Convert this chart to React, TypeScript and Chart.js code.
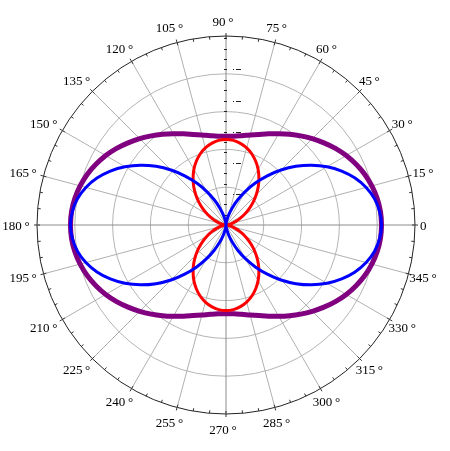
import { useEffect, useRef } from 'react';
import { Chart, registerables } from 'chart.js';

Chart.register(...registerables);

// Polar angles (degrees) of the sampled points, counter-clockwise from the right
const anglesDeg = [
  0, 5, 10, 15, 20, 25, 30, 35, 40, 45, 50, 55, 60, 65, 70, 75, 80, 85,
  90, 95, 100, 105, 110, 115, 120, 125, 130, 135, 140, 145, 150, 155, 160, 165, 170, 175,
  180, 185, 190, 195, 200, 205, 210, 215, 220, 225, 230, 235, 240, 245, 250, 255, 260, 265,
  270, 275, 280, 285, 290, 295, 300, 305, 310, 315, 320, 325, 330, 335, 340, 345, 350, 355,
];

// Radius values
const blueR = [
  1.000, 0.992, 0.970, 0.933, 0.883, 0.821, 0.750, 0.671, 0.587, 0.500, 0.413, 0.329, 0.250, 0.179, 0.117, 0.067, 0.030, 0.008,
  0.000, 0.008, 0.030, 0.067, 0.117, 0.179, 0.250, 0.329, 0.413, 0.500, 0.587, 0.671, 0.750, 0.821, 0.883, 0.933, 0.970, 0.992,
  1.000, 0.992, 0.970, 0.933, 0.883, 0.821, 0.750, 0.671, 0.587, 0.500, 0.413, 0.329, 0.250, 0.179, 0.117, 0.067, 0.030, 0.008,
  0.000, 0.008, 0.030, 0.067, 0.117, 0.179, 0.250, 0.329, 0.413, 0.500, 0.587, 0.671, 0.750, 0.821, 0.883, 0.933, 0.970, 0.992,
];

const redR = [
  0.000, 0.004, 0.017, 0.037, 0.064, 0.098, 0.138, 0.181, 0.227, 0.275, 0.323, 0.369, 0.413, 0.452, 0.486, 0.513, 0.533, 0.546,
  0.550, 0.546, 0.533, 0.513, 0.486, 0.452, 0.413, 0.369, 0.323, 0.275, 0.227, 0.181, 0.138, 0.098, 0.064, 0.037, 0.017, 0.004,
  0.000, 0.004, 0.017, 0.037, 0.064, 0.098, 0.138, 0.181, 0.227, 0.275, 0.323, 0.369, 0.413, 0.452, 0.486, 0.513, 0.533, 0.546,
  0.550, 0.546, 0.533, 0.513, 0.486, 0.452, 0.413, 0.369, 0.323, 0.275, 0.227, 0.181, 0.138, 0.098, 0.064, 0.037, 0.017, 0.004,
];

const purpleR = [
  1.000, 0.997, 0.987, 0.971, 0.950, 0.923, 0.893, 0.859, 0.822, 0.785, 0.748, 0.712, 0.678, 0.647, 0.620, 0.599, 0.583, 0.573,
  0.570, 0.573, 0.583, 0.599, 0.620, 0.647, 0.678, 0.712, 0.748, 0.785, 0.822, 0.859, 0.893, 0.923, 0.950, 0.971, 0.987, 0.997,
  1.000, 0.997, 0.987, 0.971, 0.950, 0.923, 0.893, 0.859, 0.822, 0.785, 0.748, 0.712, 0.678, 0.647, 0.620, 0.599, 0.583, 0.573,
  0.570, 0.573, 0.583, 0.599, 0.620, 0.647, 0.678, 0.712, 0.748, 0.785, 0.822, 0.859, 0.893, 0.923, 0.950, 0.971, 0.987, 0.997,
];

// Angle tick labels around the rim
const angleTickDegs = [0, 15, 30, 45, 60, 75, 90, 105, 120, 135, 150, 165, 180, 195, 210, 225, 240, 255, 270, 285, 300, 315, 330, 345];
const angleTickLabels = angleTickDegs.map((d) => (d === 0 ? '0' : `${d}\u2009°`));

// Radial scale
const rMax = 1.2154;
const gridRingValues = [0, 0.2431, 0.4862, 0.7292, 0.9723, 1.2154];
const radialLabelValues = [0.2, 0.4, 0.6, 0.8, 1.0];
const radialMinorStep = 0.2 / 3;

export default function App() {
  const canvasRef = useRef<HTMLCanvasElement | null>(null);

  useEffect(() => {
    const canvas = canvasRef.current;
    if (!canvas) return;

    // Radar draws clockwise from startAngle; reverse order to run counter-clockwise
    const order = anglesDeg.map((_, i) => (anglesDeg.length - i) % anglesDeg.length);
    const labels = order.map((k) => String(anglesDeg[k]));
    const pick = (arr: number[]) => order.map((k) => arr[k]);

    const decorPlugin = {
      id: 'polarDecor',
      beforeDatasetsDraw(chart: any) {
        const scale = chart.scales.r;
        const ctx = chart.ctx as CanvasRenderingContext2D;
        const xC = scale.xCenter;
        const yC = scale.yCenter;
        const R = scale.drawingArea;
        ctx.save();
        // rim ticks every 5 degrees
        ctx.strokeStyle = '#333';
        ctx.lineWidth = 1;
        for (let d = 0; d < 360; d += 5) {
          const a = (d * Math.PI) / 180;
          const major = d % 15 === 0;
          const r0 = major ? R - 3 : R - 3;
          const r1 = major ? R + 3 : R;
          ctx.beginPath();
          ctx.moveTo(xC + r0 * Math.cos(a), yC - r0 * Math.sin(a));
          ctx.lineTo(xC + r1 * Math.cos(a), yC - r1 * Math.sin(a));
          ctx.stroke();
        }
        // radial axis minor ticks (upward)
        ctx.strokeStyle = '#222';
        for (let k = 1; k * radialMinorStep <= rMax; k++) {
          const dist = scale.getDistanceFromCenterForValue(k * radialMinorStep);
          const y = Math.round(yC - dist) + 0.5;
          ctx.beginPath();
          ctx.moveTo(xC - 2, y);
          ctx.lineTo(xC + 1, y);
          ctx.stroke();
        }
        // tiny radial labels
        ctx.fillStyle = '#222';
        radialLabelValues.forEach((v) => {
          const dist = scale.getDistanceFromCenterForValue(v);
          const y = Math.round(yC - dist);
          ctx.fillRect(xC + 7, y, 1, 1);
          ctx.fillRect(xC + 10, y, 5, 1);
        });
        ctx.restore();
      },
      afterDraw(chart: any) {
        const scale = chart.scales.r;
        const ctx = chart.ctx as CanvasRenderingContext2D;
        const xC = scale.xCenter;
        const yC = scale.yCenter;
        const R = scale.drawingArea;
        ctx.save();
        ctx.fillStyle = '#000';
        ctx.font = '13px "Liberation Serif", "Times New Roman", serif';
        ctx.textBaseline = 'alphabetic';
        angleTickDegs.forEach((d, i) => {
          const a = (d * Math.PI) / 180;
          const cx = xC - 3 + (R + 18) * Math.cos(a);
          const cy = yC - (R + 15) * Math.sin(a) + 4.5;
          const text = angleTickLabels[i];
          if (d === 0) {
            ctx.textAlign = 'left';
            ctx.fillText(text, cx - 10, cy);
          } else {
            ctx.textAlign = 'center';
            ctx.fillText(text, cx, cy);
          }
        });
        ctx.restore();
      },
    };

    const chart = new Chart(canvas, {
      type: 'radar',
      data: {
        labels,
        datasets: [
          {
            label: 'blue',
            data: pick(blueR),
            borderColor: '#0000ff',
            borderWidth: 3,
            pointRadius: 0,
            fill: false,
            tension: 0.4,
          },
          {
            label: 'red',
            data: pick(redR),
            borderColor: '#ff0000',
            borderWidth: 3,
            pointRadius: 0,
            fill: false,
            tension: 0.4,
          },
          {
            label: 'purple',
            data: pick(purpleR),
            borderColor: '#800080',
            borderWidth: 5,
            pointRadius: 0,
            fill: false,
            tension: 0.4,
          },
        ],
      },
      options: {
        responsive: false,
        animation: false,
        layout: { padding: { left: 37, right: 34, top: 36, bottom: 36 } },
        plugins: {
          legend: { display: false },
          tooltip: { enabled: false },
        },
        scales: {
          r: {
            min: 0,
            max: rMax,
            startAngle: 90,
            ticks: { display: false },
            pointLabels: { display: false },
            grid: {
              circular: true,
              color: (c: any) => (c.index === gridRingValues.length - 1 ? '#222' : '#b4b4b4'),
              lineWidth: 1,
            },
            angleLines: {
              display: true,
              color: (c: any) => {
                const d = Number(labels[c.index]);
                return d % 90 === 0 ? '#8c8c8c' : '#b0b0b0';
              },
              lineWidth: (c: any) => (Number(labels[c.index]) % 15 === 0 ? 1 : 0),
            },
            afterBuildTicks: (scale: any) => {
              scale.ticks = gridRingValues.map((v) => ({ value: v }));
            },
          },
        },
      },
      plugins: [decorPlugin],
    });

    return () => chart.destroy();
  }, []);

  return (
    <div style={{ position: 'absolute', left: 0, top: 0, width: 450, height: 451, background: '#fff' }}>
      <canvas ref={canvasRef} width={450} height={451} style={{ display: 'block' }} />
    </div>
  );
}
